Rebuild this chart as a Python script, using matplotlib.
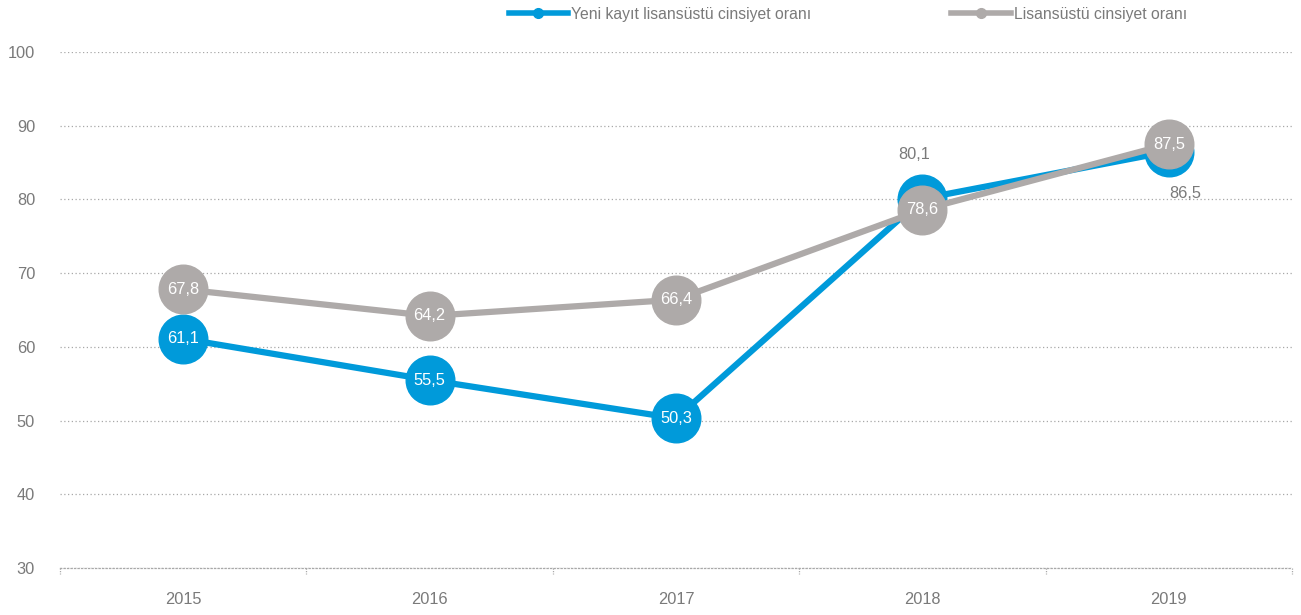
import matplotlib
matplotlib.use("Agg")
import matplotlib.pyplot as plt
from matplotlib import font_manager

years = ["2015", "2016", "2017", "2018", "2019"]
new_enrol = [61.1, 55.5, 50.3, 80.1, 86.5]
graduate = [67.8, 64.2, 66.4, 78.6, 87.5]
series_names = ["Yeni kayıt lisansüstü cinsiyet oranı", "Lisansüstü cinsiyet oranı"]
y_ticks = [30, 40, 50, 60, 70, 80, 90, 100]

BLUE = "#009ADA"
GREY = "#AEAAA9"
TEXT = "#7A7A7A"
RULE = "#A8A8A8"

avail = {f.name for f in font_manager.fontManager.ttflist}
family = ["Liberation Sans Narrow"] if "Liberation Sans Narrow" in avail else ["Liberation Sans"]
plt.rcParams["font.family"] = family + ["DejaVu Sans"]

fig = plt.figure(figsize=(13.01, 6.15), dpi=100)
ax = fig.add_axes([60 / 1301, 47 / 615, 1232 / 1301, 516 / 615])

x = list(range(len(years)))
ax.plot(x, new_enrol, color=BLUE, lw=4.5, marker="o", ms=35, mec=BLUE, mfc=BLUE,
        solid_capstyle="round", zorder=3, label=series_names[0])
ax.plot(x, graduate, color=GREY, lw=4.5, marker="o", ms=35, mec=GREY, mfc=GREY,
        solid_capstyle="round", zorder=4, label=series_names[1])

def fmt(v):
    return f"{v:.1f}".replace(".", ",")

fs = 11.8
for i, v in enumerate(new_enrol):
    if i == 3:
        ax.annotate(fmt(v), (i, v), xytext=(-6, 32), textcoords="offset points",
                    ha="center", va="center", color=TEXT, fontsize=fs, zorder=6)
    elif i == 4:
        ax.annotate(fmt(v), (i, v), xytext=(12, -30), textcoords="offset points",
                    ha="center", va="center", color=TEXT, fontsize=fs, zorder=6)
    else:
        ax.annotate(fmt(v), (i, v), ha="center", va="center", color="white",
                    fontsize=fs, zorder=6)
for i, v in enumerate(graduate):
    ax.annotate(fmt(v), (i, v), ha="center", va="center", color="white",
                fontsize=fs, zorder=6)

ax.set_xlim(-0.5, len(years) - 0.5)
ax.set_ylim(30, 100)
ax.set_yticks(y_ticks)
ax.set_yticklabels([str(t) for t in y_ticks])
ax.set_xticks(x)
ax.set_xticklabels(years)

ax.grid(axis="y", color=RULE, linestyle=(0, (1, 2)), lw=0.9)
ax.set_axisbelow(True)
for s in ["top", "right", "left"]:
    ax.spines[s].set_visible(False)
ax.spines["bottom"].set_color(RULE)
ax.spines["bottom"].set_linestyle((0, (1, 1.8)))
ax.spines["bottom"].set_linewidth(0.9)

# dotted category boundary ticks below the baseline
tr = ax.get_xaxis_transform()
for b in [i - 0.5 for i in range(len(years) + 1)]:
    ax.plot([b, b], [0, -0.012], transform=tr, color=RULE, lw=0.9,
            linestyle=(0, (1, 1)), clip_on=False)

ax.tick_params(axis="y", length=0, pad=18, labelsize=fs, labelcolor=TEXT)
ax.tick_params(axis="x", length=0, pad=17, labelsize=fs, labelcolor=TEXT)

handles = [
    plt.Line2D([], [], color=BLUE, lw=4, marker="o", ms=7, mec=BLUE, mfc=BLUE),
    plt.Line2D([], [], color=GREY, lw=4, marker="o", ms=7, mec=GREY, mfc=GREY),
]
fig.legend(handles, series_names, loc="upper center", bbox_to_anchor=(848 / 1301, 1.012),
           ncol=2, frameon=False, fontsize=11.3, labelcolor=TEXT, handlelength=3.8,
           handletextpad=0.2, columnspacing=8.9)

fig.savefig("out.png", dpi=100)
